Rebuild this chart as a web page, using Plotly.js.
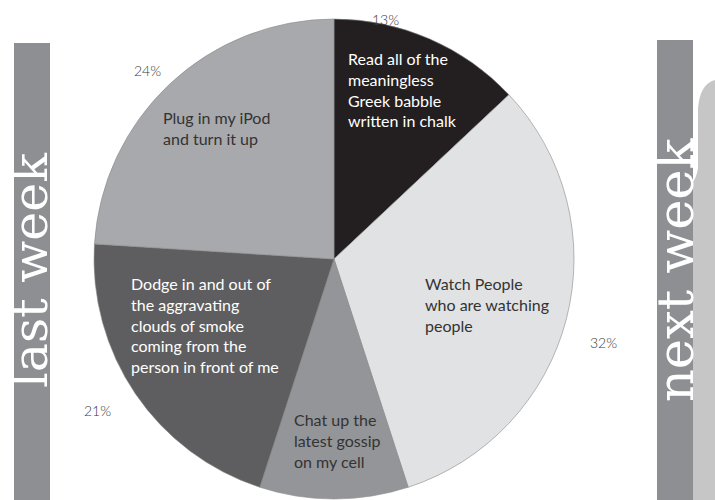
<!DOCTYPE html>
<html>
<head>
<meta charset="utf-8">
<script src="https://cdn.plot.ly/plotly-3.0.1.min.js"></script>
<style>
  html, body { margin: 0; padding: 0; background: #ffffff; }
  #chart { width: 715px; height: 500px; }
</style>
</head>
<body>
<div id="chart"></div>
<script>
// ---- data ----
const categories = [
  "Read all of the<br>meaningless<br>Greek babble<br>written in chalk",
  "Watch People<br>who are watching<br>people",
  "Chat up the<br>latest gossip<br>on my cell",
  "Dodge in and out of<br>the aggravating<br>clouds of smoke<br>coming from the<br>person in front of me",
  "Plug in my iPod<br>and turn it up"
];
const values = [13, 32, 10, 21, 24];
const sliceColors = ["#231f20", "#e1e2e4", "#939598", "#5e5e60", "#a8a9ac"];
const labelColors = ["#ffffff", "#333333", "#333333", "#ffffff", "#333333"];
const sideLabels = ["last week", "next week"];

// ---- layout helpers (pixel -> paper) ----
const W = 715, H = 500;
const px = x => x / W;
const py = y => 1 - y / H;

// label anchor points in pixels (left edge, vertical middle)
const labelPos = [[346, 90], [423, 304], [292, 440], [129, 325], [161, 127.5]];
const pctPos = [[386, 19], [603, 342], null, [97, 410], [147, 70]];

const trace = {
  type: "pie",
  values: values,
  labels: categories,
  sort: false,
  direction: "clockwise",
  rotation: 0,
  textinfo: "none",
  hoverinfo: "none",
  marker: { colors: sliceColors, line: { color: "#8a8a8a", width: 0.6 } },
  domain: { x: [px(94), px(574)], y: [py(499), py(19)] },
  showlegend: false
};

const annotations = [];
categories.forEach((c, i) => {
  annotations.push({
    xref: "paper", yref: "paper",
    x: px(labelPos[i][0]), y: py(labelPos[i][1]),
    xanchor: "left", yanchor: "middle", align: "left",
    text: c, showarrow: false,
    font: { family: "Lato, Open Sans, sans-serif", size: 16, color: labelColors[i] }
  });
  if (pctPos[i]) {
    annotations.push({
      xref: "paper", yref: "paper",
      x: px(pctPos[i][0]), y: py(pctPos[i][1]),
      xanchor: "center", yanchor: "middle",
      text: values[i] + "%", showarrow: false,
      font: { family: "Lato, Open Sans, sans-serif", size: 14, weight: 300, color: "#3a3a3a" }
    });
  }
});
// side labels
const sidePos = [[30, 270], [675, 270]];
const sideSize = [49, 51];
sideLabels.forEach((s, i) => {
  annotations.push({
    xref: "paper", yref: "paper",
    x: px(sidePos[i][0]), y: py(sidePos[i][1]),
    xanchor: "center", yanchor: "middle",
    text: s, showarrow: false, textangle: -90,
    font: { family: "DejaVu Serif, Liberation Serif, serif", size: sideSize[i], weight: 300, color: "#ffffff" }
  });
});

function pathPx(pts) {
  return pts.map(p => typeof p === "string" ? p : (px(p[0]).toFixed(5) + "," + py(p[1]).toFixed(5))).join(" ");
}
const headPath = pathPx(["M", [715, 500], "L", [693, 500], "L", [693, 182],
  "Q", [697, 176], [698, 168], "L", [698, 108], "Q", [700, 84], [715, 80], "Z"]);

const shapes = [
  { type: "rect", xref: "paper", yref: "paper", x0: px(14), x1: px(50), y0: py(500), y1: py(43),
    fillcolor: "#8e8f93", line: { width: 0 }, layer: "below" },
  { type: "rect", xref: "paper", yref: "paper", x0: px(657), x1: px(693), y0: py(500), y1: py(40),
    fillcolor: "#8e8f93", line: { width: 0 }, layer: "below" },
  { type: "path", xref: "paper", yref: "paper", path: headPath,
    fillcolor: "#c6c6c6", line: { width: 0 }, layer: "below" }
];

const layout = {
  width: W, height: H,
  margin: { l: 0, r: 0, t: 0, b: 0 },
  paper_bgcolor: "#ffffff",
  plot_bgcolor: "#ffffff",
  showlegend: false,
  annotations: annotations,
  shapes: shapes
};

Plotly.newPlot("chart", [trace], layout, { staticPlot: true, displayModeBar: false });
</script>
</body>
</html>
